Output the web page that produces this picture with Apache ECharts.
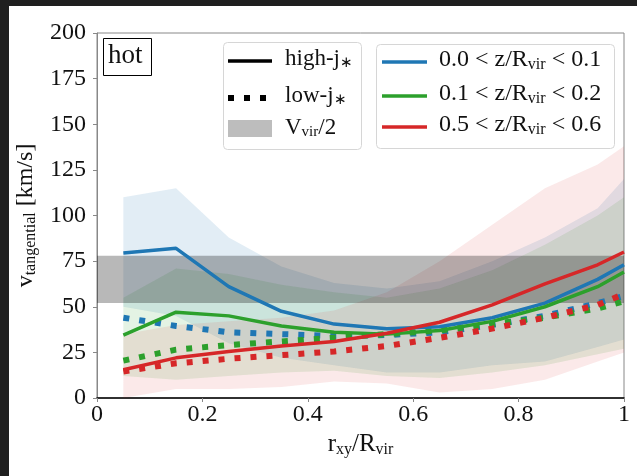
<!DOCTYPE html>
<html>
<head>
<meta charset="utf-8">
<script src="https://cdn.jsdelivr.net/npm/echarts@6/dist/echarts.min.js"></script>
<style>
  html, body { margin: 0; padding: 0; background: #1f1f1f; }
  #main { position: absolute; left: 9px; top: 6px; width: 628px; height: 470px; background: #fff; }
</style>
</head>
<body>
<div id="main"></div>
<script>
// r_xy / R_vir bins
const rx = [0.05, 0.15, 0.25, 0.35, 0.45, 0.55, 0.65, 0.75, 0.85, 0.95, 1.0];

// high-j (solid)
const blueHigh  = [79.5, 82, 61, 47.5, 40.5, 38, 39, 44, 52, 65, 73];
const greenHigh = [34.5, 47, 45, 39.5, 36, 35, 37, 42, 50, 61, 69];
const redHigh   = [15.5, 22, 25.5, 28.5, 31, 35.5, 41.5, 51, 62.5, 73, 80];

// low-j (dotted)
const blueLow  = [44, 39.5, 36, 35, 34, 34.5, 36, 40, 45, 52, 56];
const greenLow = [20.5, 26.5, 29, 31, 33, 35, 37, 40.5, 44, 49, 53];
const redLow   = [14.5, 19, 21.5, 23.5, 25.5, 28.5, 33, 38, 44, 51, 57];

// scatter bands
const blueLo  = [50, 45, 30, 22, 18, 14, 14, 18, 20, 28, 32];
const blueHi  = [110, 115, 88, 72, 63, 60, 64, 75, 88, 104, 120];
const greenLo = [12, 10, 12, 14, 15, 12, 11, 14, 18, 24, 27];
const greenHi = [55, 71, 68, 62, 58, 55, 60, 70, 84, 100, 110];
const redLo   = [0, 5, 5, 6, 9, 8, 3, 5, 10, 20, 25];
const redHi   = [35, 40, 42, 44, 48, 58, 75, 95, 115, 128, 138];

// V_vir/2 range
const vvirX = [0, 1];
const vvirLo = [52, 52];
const vvirHi = [78, 78];

const yTicks = [0, 25, 50, 75, 100, 125, 150, 175, 200];

const BLUE = '#1f77b4', GREEN = '#2ca02c', RED = '#d62728';
const FONT = 'Liberation Serif';

function pts(xs, ys) {
  return xs.map((x, i) => [x, ys[i]]);
}

// filled range between lo and hi, drawn as one polygon through the axes
function band(xs, lo, hi, color, z) {
  return {
    type: 'custom', silent: true, z: z, clip: true,
    data: xs.map((x, i) => [x, lo[i], hi[i]]),
    encode: { x: 0, y: [1, 2] },
    renderItem: function (params, api) {
      if (params.dataIndex !== 0) return null;
      const upper = xs.map((x, i) => api.coord([x, hi[i]]));
      const lower = xs.map((x, i) => api.coord([x, lo[i]])).reverse();
      return {
        type: 'polygon',
        shape: { points: upper.concat(lower) },
        style: { fill: color }
      };
    }
  };
}

function line(data, color, dotted) {
  return {
    type: 'line', data: pts(rx, data), symbol: 'none', z: dotted ? 6 : 7,
    lineStyle: dotted
      ? { color: color, width: 6, type: [6, 10], cap: 'butt' }
      : { color: color, width: 3.5 }
  };
}

const chart = echarts.init(document.getElementById('main'));

const series = [
  band(rx, blueLo, blueHi, 'rgba(31,119,180,0.13)', 1),
  band(rx, greenLo, greenHi, 'rgba(44,160,44,0.13)', 1),
  band(rx, redLo, redHi, 'rgba(214,39,40,0.10)', 1),
  band(vvirX, vvirLo, vvirHi, 'rgba(0,0,0,0.28)', 3),
  line(blueLow, BLUE, true),
  line(greenLow, GREEN, true),
  line(redLow, RED, true),
  line(blueHigh, BLUE, false),
  line(greenHigh, GREEN, false),
  line(redHigh, RED, false)
];

function legText(x, y, t, size) {
  return {
    type: 'text', left: x, top: y - 14, z: 20,
    style: {
      text: t, fontFamily: FONT, fontSize: size, fill: '#111',
      rich: {
        m: { fontFamily: FONT, fontSize: size, color: '#111' },
        s: { fontFamily: FONT, fontSize: Math.round(size * 0.65), color: '#111', padding: [10, 0, 0, 0] }
      }
    }
  };
}

const option = {
  animation: false,
  grid: {
    left: 88, top: 27, right: 13, bottom: 78,
    outerBoundsMode: 'none',
    show: true, borderColor: '#888', borderWidth: 1
  },
  xAxis: {
    type: 'value', min: 0, max: 1, interval: 0.2,
    name: '{m|r}{s|xy}{m|/R}{s|vir}', nameLocation: 'middle', nameGap: 31,
    nameTextStyle: {
      rich: {
        m: { fontFamily: FONT, fontSize: 25, color: '#111' },
        s: { fontFamily: FONT, fontSize: 16, color: '#111', padding: [11, 0, 0, 0] }
      }
    },
    axisLine: { lineStyle: { color: '#000', width: 1.5 } },
    axisTick: { show: true, length: 4, lineStyle: { color: '#888' } },
    axisLabel: {
      fontFamily: FONT, fontSize: 24, color: '#111', margin: 5,
      formatter: v => (v === 0 || v === 1) ? String(v) : v.toFixed(1)
    },
    splitLine: { show: false }
  },
  yAxis: {
    type: 'value', min: 0, max: 200, interval: 25,
    name: '{m|v}{s|tangential}{m| [km/s]}', nameLocation: 'middle', nameGap: 58, nameRotate: 90,
    nameTextStyle: {
      rich: {
        m: { fontFamily: FONT, fontSize: 24, color: '#111' },
        s: { fontFamily: FONT, fontSize: 16, color: '#111', padding: [10, 0, 0, 0] }
      }
    },
    axisLine: { show: true, lineStyle: { color: '#888', width: 1 } },
    axisTick: { show: true, length: 4, lineStyle: { color: '#888' } },
    axisLabel: {
      fontFamily: FONT, fontSize: 24, color: '#111', margin: 11,
      formatter: v => yTicks.indexOf(v) >= 0 ? String(v) : ''
    },
    splitLine: { show: false }
  },
  graphic: [
    // "hot" box
    {
      type: 'rect', left: 94, top: 32, z: 20,
      shape: { width: 48, height: 37 },
      style: { fill: '#fff', stroke: '#000', lineWidth: 1 }
    },
    {
      type: 'text', left: 99, top: 36, z: 21,
      style: { text: 'hot', fontFamily: FONT, fontSize: 27, fill: '#111' }
    },
    // legend 1
    {
      type: 'rect', left: 214, top: 36, z: 19,
      shape: { width: 138, height: 107, r: 4 },
      style: { fill: 'rgba(255,255,255,0.85)', stroke: '#d6d6d6', lineWidth: 1 }
    },
    {
      type: 'line', z: 20,
      shape: { x1: 219, y1: 55, x2: 263, y2: 55 },
      style: { stroke: '#000', lineWidth: 3.5 }
    },
    {
      type: 'line', z: 20,
      shape: { x1: 219, y1: 92, x2: 263, y2: 92 },
      style: { stroke: '#000', lineWidth: 6, lineDash: [6, 10], lineCap: 'butt' }
    },
    {
      type: 'rect', left: 219, top: 114, z: 20,
      shape: { width: 44, height: 17 },
      style: { fill: '#bdbdbd' }
    },
    legText(276, 55, '{m|high-j}{s|∗}', 23),
    legText(276, 92, '{m|low-j}{s|∗}', 23),
    legText(276, 124, '{m|V}{s|vir}{m|/2}', 23),
    // legend 2
    {
      type: 'rect', left: 367, top: 38, z: 19,
      shape: { width: 238, height: 104, r: 4 },
      style: { fill: 'rgba(255,255,255,0.85)', stroke: '#d6d6d6', lineWidth: 1 }
    },
    {
      type: 'line', z: 20,
      shape: { x1: 373, y1: 56, x2: 418, y2: 56 },
      style: { stroke: BLUE, lineWidth: 3.5 }
    },
    {
      type: 'line', z: 20,
      shape: { x1: 373, y1: 90, x2: 418, y2: 90 },
      style: { stroke: GREEN, lineWidth: 3.5 }
    },
    {
      type: 'line', z: 20,
      shape: { x1: 373, y1: 121, x2: 418, y2: 121 },
      style: { stroke: RED, lineWidth: 3.5 }
    },
    legText(430, 56, '{m|0.0 < z/R}{s|vir}{m| < 0.1}', 24),
    legText(430, 90, '{m|0.1 < z/R}{s|vir}{m| < 0.2}', 24),
    legText(430, 121, '{m|0.5 < z/R}{s|vir}{m| < 0.6}', 24)
  ],
  series: series
};

chart.setOption(option);
</script>
</body>
</html>
